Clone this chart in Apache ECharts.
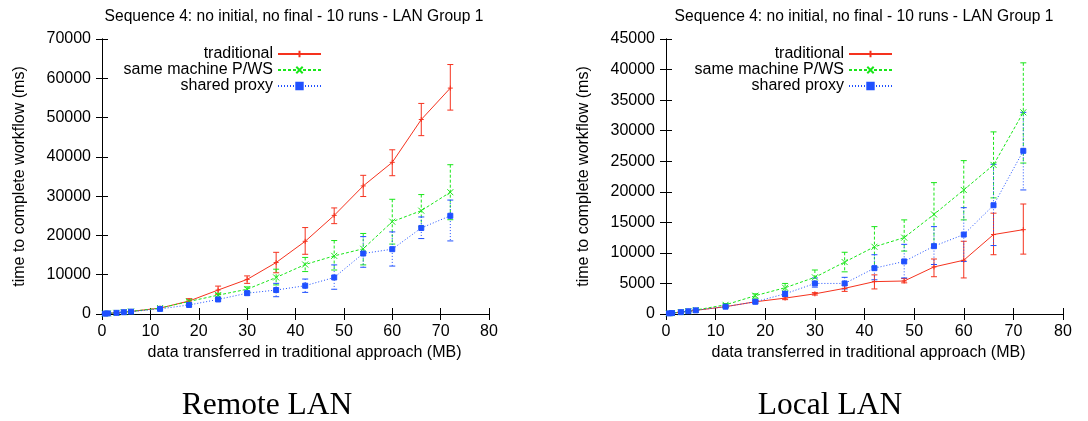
<!DOCTYPE html>
<html>
<head>
<meta charset="utf-8">
<script src="https://cdn.jsdelivr.net/npm/echarts@6/dist/echarts.min.js"></script>
<style>
  html, body { margin: 0; padding: 0; background: #fff; }
  #chart { width: 1088px; height: 421px; }
</style>
</head>
<body>
<div id="chart"></div>
<script>
// data transferred (MB)
const X = [0.6, 1.2, 3, 4.5, 6, 12, 18, 24, 30, 36, 42, 48, 54, 60, 66, 72];

// Remote LAN
const remoteTrad   = [100, 150, 300, 450, 650, 1500, 3300, 6100, 8800, 13100, 18500, 25100, 32600, 38600, 49500, 57500];
const remoteTradLo = [50, 100, 220, 350, 550, 1300, 2800, 5000, 7800, 10500, 15200, 23000, 29900, 35200, 45400, 51900];
const remoteTradHi = [150, 200, 380, 550, 750, 1700, 3900, 7100, 9700, 15700, 22000, 27000, 35300, 41800, 53600, 63500];
const remoteSame   = [100, 150, 300, 450, 650, 1500, 3200, 4800, 6300, 9300, 12600, 14800, 16600, 23500, 26300, 31000];
const remoteSameLo = [60, 100, 230, 370, 560, 1300, 2800, 4300, 5700, 7400, 10800, 11200, 12500, 17800, 22200, 24000];
const remoteSameHi = [150, 200, 370, 530, 740, 1700, 3600, 5300, 6900, 11400, 14400, 18700, 20500, 29200, 30400, 38000];
const remoteProxy   = [100, 150, 300, 450, 600, 1300, 2300, 3700, 5300, 6100, 7200, 9300, 15400, 16500, 21900, 25000];
const remoteProxyLo = [50, 100, 220, 350, 500, 1100, 2000, 3300, 4800, 4400, 5500, 6300, 11900, 12200, 19200, 18600];
const remoteProxyHi = [150, 200, 380, 550, 700, 1500, 2600, 4100, 5800, 7800, 8900, 12500, 19700, 20900, 24700, 29000];

// Local LAN
const localTrad   = [100, 150, 300, 450, 600, 1200, 2000, 2600, 3300, 4200, 5300, 5400, 7700, 8800, 13000, 13800];
const localTradLo = [60, 110, 240, 380, 530, 1100, 1800, 2350, 3100, 3700, 4100, 5100, 6100, 5900, 9700, 9800];
const localTradHi = [140, 190, 360, 520, 670, 1350, 2200, 2850, 3500, 4700, 6400, 5800, 9000, 11900, 16500, 18000];
const localSame   = [100, 150, 300, 450, 650, 1500, 3000, 4300, 6000, 8500, 11000, 12500, 16300, 20300, 24400, 33000];
const localSameLo = [60, 110, 240, 380, 560, 1300, 2600, 3700, 5000, 6900, 7700, 10300, 11400, 15400, 19000, 24700];
const localSameHi = [140, 190, 360, 520, 740, 1700, 3300, 5000, 7200, 10100, 14300, 15400, 21500, 25100, 29800, 41100];
const localProxy   = [100, 150, 300, 450, 600, 1200, 2000, 3300, 5000, 5000, 7500, 8600, 11100, 13000, 17800, 26700];
const localProxyLo = [60, 110, 240, 380, 530, 1100, 1800, 2900, 4400, 4100, 5600, 5900, 8100, 8600, 11200, 20300];
const localProxyHi = [140, 190, 360, 520, 670, 1300, 2300, 3700, 5900, 6000, 9700, 11400, 14300, 17400, 24500, 33000];

const NAMES = ['traditional', 'same machine P/WS', 'shared proxy'];
const TITLE = 'Sequence 4: no initial, no final - 10 runs - LAN Group 1';
const CAPTIONS = ['Remote LAN', 'Local LAN'];

const SANS = 'Liberation Sans, Arial, sans-serif';
const SERIF = 'Liberation Serif, Times New Roman, serif';
const RED = '#f5321e', GREEN = '#19e619', BLUE = '#1f50ff';
const FS = 16;

const STYLES = [
  { color: RED, type: 'solid', dash: null, symbol: 'path://M5,0L5,10M0,5L10,5', size: 5 },
  { color: GREEN, type: [3, 2], dash: [3, 2], symbol: 'path://M0,0L10,10M10,0L0,10', size: 6 },
  { color: BLUE, type: [1, 2], dash: [1, 2], symbol: 'rect', size: 5 }
];

const chart = echarts.init(document.getElementById('chart'));

const grids = [
  { left: 102, top: 39, width: 387, height: 275 },
  { left: 666, top: 39, width: 397, height: 275 }
];
const yMax = [70000, 45000];
const yStep = [10000, 5000];
const xNameShift = [18, 8];

const xAxes = [], yAxes = [];
grids.forEach((g, i) => {
  xAxes.push({
    gridIndex: i, type: 'value', min: 0, max: 80, interval: 10, position: 'bottom',
    name: 'data transferred in traditional approach (MB)', nameLocation: 'middle', nameGap: 31,
    nameTextStyle: { fontFamily: SANS, fontSize: FS, color: '#000', padding: [0, 0, 0, xNameShift[i]] },
    axisLine: { show: true, lineStyle: { color: '#000', width: 1 } },
    axisTick: { inside: true, length: 6, lineStyle: { color: '#000' } },
    axisLabel: { fontFamily: SANS, fontSize: FS, color: '#000', margin: 10 },
    splitLine: { show: false }
  });
  xAxes.push({
    gridIndex: i, type: 'value', min: 0, max: 80, interval: 10, position: 'top',
    axisLine: { show: true, lineStyle: { color: '#000', width: 1 } },
    axisTick: { inside: true, length: 6, lineStyle: { color: '#000' } },
    axisLabel: { show: false }, splitLine: { show: false }
  });
  yAxes.push({
    gridIndex: i, type: 'value', min: 0, max: yMax[i], interval: yStep[i], position: 'left',
    name: 'time to complete workflow (ms)', nameLocation: 'middle', nameGap: 74,
    nameTextStyle: { fontFamily: SANS, fontSize: FS, color: '#000' },
    axisLine: { show: true, lineStyle: { color: '#000', width: 1 } },
    axisTick: { inside: true, length: 6, lineStyle: { color: '#000' } },
    axisLabel: { fontFamily: SANS, fontSize: FS, color: '#000', margin: 11, formatter: v => String(v) },
    splitLine: { show: false }
  });
  yAxes.push({
    gridIndex: i, type: 'value', min: 0, max: yMax[i], interval: yStep[i], position: 'right',
    axisLine: { show: true, lineStyle: { color: '#000', width: 1 } },
    axisTick: { inside: true, length: 6, lineStyle: { color: '#000' } },
    axisLabel: { show: false }, splitLine: { show: false }
  });
});

function lineSeries(name, st, gi, vals) {
  return {
    name: name, type: 'line', xAxisIndex: gi * 2, yAxisIndex: gi * 2,
    data: X.map((x, k) => [x, vals[k]]),
    symbol: st.symbol, symbolSize: st.size, showSymbol: true,
    lineStyle: { color: st.color, width: 1, type: st.type },
    itemStyle: { color: st.color, borderColor: st.color, borderWidth: 1 },
    z: 3, animation: false
  };
}

function errSeries(st, gi, lo, hi) {
  return {
    type: 'custom', xAxisIndex: gi * 2, yAxisIndex: gi * 2,
    data: X.map((x, k) => [x, lo[k], hi[k]]),
    encode: { x: 0, y: [1, 2] },
    renderItem: function (params, api) {
      const top = api.coord([api.value(0), api.value(2)]);
      const bot = api.coord([api.value(0), api.value(1)]);
      const w = 3;
      const s = { stroke: st.color, lineWidth: 1, lineDash: st.dash };
      return {
        type: 'group',
        children: [
          { type: 'line', shape: { x1: top[0], y1: top[1], x2: bot[0], y2: bot[1] }, style: s },
          { type: 'line', shape: { x1: top[0] - w, y1: top[1], x2: top[0] + w, y2: top[1] }, style: { stroke: st.color, lineWidth: 1 } },
          { type: 'line', shape: { x1: bot[0] - w, y1: bot[1], x2: bot[0] + w, y2: bot[1] }, style: { stroke: st.color, lineWidth: 1 } }
        ]
      };
    },
    silent: true, z: 2, animation: false
  };
}

const sets = [
  [[remoteTrad, remoteTradLo, remoteTradHi], [remoteSame, remoteSameLo, remoteSameHi], [remoteProxy, remoteProxyLo, remoteProxyHi]],
  [[localTrad, localTradLo, localTradHi], [localSame, localSameLo, localSameHi], [localProxy, localProxyLo, localProxyHi]]
];

const series = [];
sets.forEach((grp, gi) => {
  grp.forEach((d, si) => {
    series.push(errSeries(STYLES[si], gi, d[1], d[2]));
    series.push(lineSeries(NAMES[si], STYLES[si], gi, d[0]));
  });
});

// one legend per entry so that the samples line up on the right of the text
const legendRight = [1088 - 322, 1088 - 893];
const legends = [];
legendRight.forEach(r => {
  NAMES.forEach((n, k) => {
    legends.push({
      data: [n], orient: 'vertical', align: 'right', right: r, top: 46 + k * 16,
      padding: 0, itemWidth: 43, itemHeight: 8, selectedMode: false,
      textStyle: { fontFamily: SANS, fontSize: FS, color: '#000' }
    });
  });
});

const titleStyle = { fontFamily: SANS, fontSize: 15.6, fontWeight: 'normal', color: '#000' };
const capStyle = { fontFamily: SERIF, fontSize: 31.5, fontWeight: 'normal', color: '#000' };
const titles = [
  { text: TITLE, left: 294, top: 9, textAlign: 'center', padding: 0, textStyle: titleStyle },
  { text: TITLE, left: 864, top: 9, textAlign: 'center', padding: 0, textStyle: titleStyle },
  { text: CAPTIONS[0], left: 267, top: 390, textAlign: 'center', padding: 0, textStyle: capStyle },
  { text: CAPTIONS[1], left: 830, top: 390, textAlign: 'center', padding: 0, textStyle: capStyle }
];

chart.setOption({
  animation: false,
  backgroundColor: '#fff',
  title: titles,
  legend: legends,
  grid: grids,
  xAxis: xAxes,
  yAxis: yAxes,
  series: series
});
</script>
</body>
</html>
